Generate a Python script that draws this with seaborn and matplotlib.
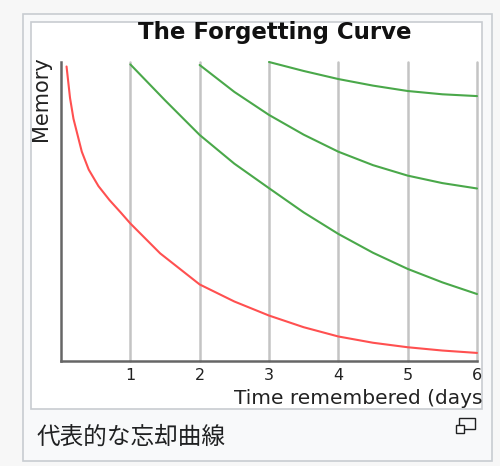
import pandas as pd
import numpy as np
import matplotlib
matplotlib.use("Agg")
import matplotlib.pyplot as plt
import seaborn as sns
from matplotlib.patches import Rectangle

# values (memory as fraction, time in days)
red_t = [0.08, 0.13, 0.18, 0.30, 0.40, 0.54, 0.70, 0.86, 1.0, 1.43, 2.0, 2.5, 3.0, 3.5, 4.0, 4.5, 5.0, 5.5, 6.0]
red_m = [0.985, 0.88, 0.81, 0.70, 0.64, 0.585, 0.538, 0.497, 0.46, 0.36, 0.256, 0.199, 0.152, 0.113, 0.082, 0.061, 0.046, 0.035, 0.027]

g1_t = [1.0, 1.5, 2.0, 2.5, 3.0, 3.5, 4.0, 4.5, 5.0, 5.5, 6.0]
g1_m = [0.992, 0.872, 0.756, 0.660, 0.578, 0.497, 0.425, 0.362, 0.308, 0.263, 0.224]

g2_t = [2.0, 2.5, 3.0, 3.5, 4.0, 4.5, 5.0, 5.5, 6.0]
g2_m = [0.99, 0.90, 0.823, 0.757, 0.70, 0.655, 0.620, 0.595, 0.577]

g3_t = [3.0, 3.5, 4.0, 4.5, 5.0, 5.5, 6.0]
g3_m = [1.0, 0.970, 0.943, 0.921, 0.903, 0.892, 0.886]

review_days = [1, 2, 3, 4, 5, 6]
tick_labels = ["1", "2", "3", "4", "5", "6"]

df = pd.concat([
    pd.DataFrame({"t": red_t, "m": red_m, "curve": "none"}),
    pd.DataFrame({"t": g1_t, "m": g1_m, "curve": "r1"}),
    pd.DataFrame({"t": g2_t, "m": g2_m, "curve": "r2"}),
    pd.DataFrame({"t": g3_t, "m": g3_m, "curve": "r3"}),
])

sns.set_style("white")
plt.rcParams['font.family'] = ['DejaVu Sans']

W, H = 500, 466
fig = plt.figure(figsize=(5, 4.66), dpi=100, facecolor="#f7f7f7")

def fx(x):
    return x / W

def fy(y):
    return 1 - y / H

# thumbnail frame + inner image (behind the axes)
fig.patches.append(Rectangle((fx(23), fy(461)), fx(492) - fx(23), fy(14) - fy(461),
                             transform=fig.transFigure, facecolor="#f8f9fa",
                             edgecolor="#c8ccd1", linewidth=1.2, zorder=-10))
fig.patches.append(Rectangle((fx(31), fy(409)), fx(482) - fx(31), fy(22) - fy(409),
                             transform=fig.transFigure, facecolor="white",
                             edgecolor="#c8ccd1", linewidth=1.2, zorder=-9))

ax = fig.add_axes([fx(61), fy(361), fx(477) - fx(61), fy(62) - fy(361)])
ax.set_zorder(5)
ax.patch.set_alpha(0)

for d in review_days:
    ax.plot([d, d], [0, 1], color="#c4c4c4", linewidth=1.8, clip_on=False, zorder=1)

sns.lineplot(data=df, x="t", y="m", hue="curve", estimator=None, sort=False,
             palette={"none": "#ff5050", "r1": "#4aa84a", "r2": "#4aa84a", "r3": "#4aa84a"},
             linewidth=1.5, legend=False, ax=ax, zorder=3)
for ln in ax.lines:
    ln.set_clip_on(False)
    ln.set_solid_joinstyle("round")

ax.set_xlim(0, 6)
ax.set_ylim(0, 1)
for s in ["top", "right"]:
    ax.spines[s].set_visible(False)
for s in ["left", "bottom"]:
    ax.spines[s].set_color("#666666")
    ax.spines[s].set_linewidth(1.8)
ax.set_yticks([])
ax.set_xticks(review_days)
ax.set_xticklabels(tick_labels, fontsize=11.5, color="#222222")
ax.tick_params(axis="x", length=0, pad=5)
ax.set_xlabel("")
ax.set_ylabel("")

fig.text(fx(275), fy(33), "The Forgetting Curve", ha="center", va="center",
         fontsize=16.5, fontweight="bold", color="#111111")
fig.text(fx(41), fy(99), "Memory", ha="center", va="center", rotation=90,
         fontsize=15, color="#222222")
fig.text(fx(482), fy(398), "Time remembered (days", ha="right", va="center",
         fontsize=14.5, color="#222222")

fig.text(fx(37), fy(437), "代表的な忘却曲線", ha="left", va="center",
         fontsize=17, color="#202122", family=["Noto Sans CJK JP", "DejaVu Sans"])

# enlarge icon
fig.patches.append(Rectangle((fx(459), fy(429)), fx(475) - fx(459), fy(418) - fy(429),
                             transform=fig.transFigure, facecolor="none",
                             edgecolor="#202122", linewidth=1.0))
fig.patches.append(Rectangle((fx(456), fy(433)), fx(464) - fx(456), fy(425) - fy(433),
                             transform=fig.transFigure, facecolor="white",
                             edgecolor="#202122", linewidth=1.0))

fig.savefig("out.png", dpi=100, facecolor=fig.get_facecolor())
